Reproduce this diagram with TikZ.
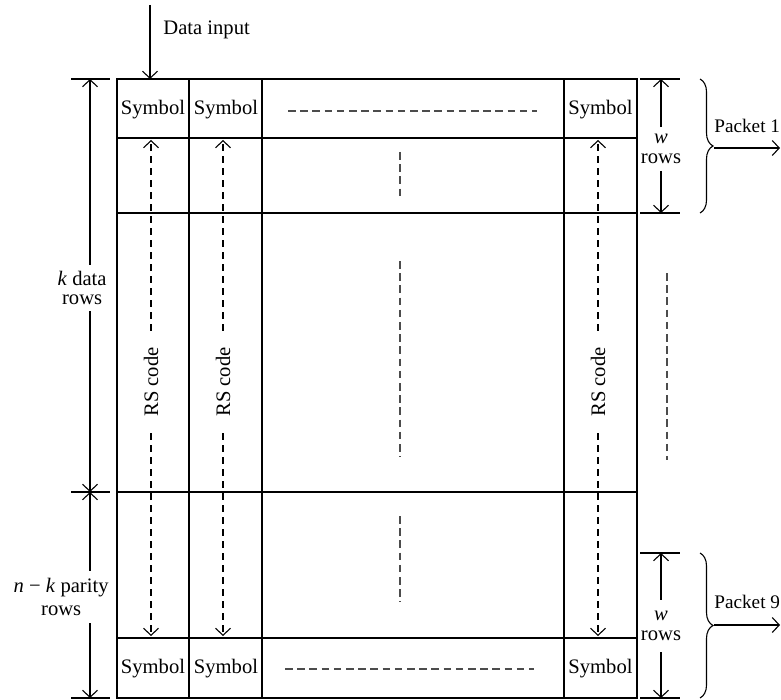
\documentclass[tikz,border=0pt]{standalone}
\usepackage{fontspec}
\setmainfont{Liberation Serif}
\usetikzlibrary{arrows.meta,decorations.pathreplacing}

\begin{document}
\begin{tikzpicture}[
    x=0.5pt,y=-0.5pt,
    font=\fontsize{10.3}{11.3}\selectfont,
    grid/.style={line width=0.6pt},
    dim/.style={line width=0.55pt},
    arrow/.style={-{Straight Barb[length=3.5pt,width=7.5pt]},line width=0.55pt},
    dashline/.style={line width=0.7pt,black!70,dash pattern=on 3.8pt off 2.3pt},
    rsarrow/.style={arrow,dash pattern=on 3.6pt off 2.4pt},
    rslabel/.style={rotate=90,inner xsep=8pt,inner ysep=1pt},
    sym/.style={anchor=base,inner sep=1pt},
    dimlbl/.style={align=center,inner xsep=1pt,inner ysep=0pt},
    brace/.style={dim,decorate,decoration={brace,amplitude=6.5pt}}
  ]
  \useasboundingbox (0,0) rectangle (781,700);

  % grid
  \draw[grid] (117,79) rectangle (637,698);
  \foreach \x in {189,262,564} \draw[grid] (\x,79) -- (\x,698);
  \foreach \y in {138,213,492,638} \draw[grid] (117,\y) -- (637,\y);

  \node[sym] (s1) at (153,115) {Symbol};
  \node[sym] (s2) at (226,115) {Symbol};
  \node[sym] (s3) at (600.5,115) {Symbol};
  \node[sym] (s4) at (153,673) {Symbol};
  \node[sym] (s5) at (226,673) {Symbol};
  \node[sym] (s6) at (600.5,673) {Symbol};

  \draw[dashline] (288,111) -- (537,111);
  \draw[dashline] (285,669) -- (534,669);
  \draw[dashline] (400,152) -- (400,200);
  \draw[dashline] (400,261) -- (400,457);
  \draw[dashline] (400,516) -- (400,602);
  \draw[dashline] (667,273) -- (667,460);

  % input
  \coordinate (din) at (150,5);
  \coordinate (cin) at (150,79);
  \node[anchor=base west,inner sep=1pt] (dlbl) at (161,35) {Data input};
  \draw[arrow] (din) -- (cin);

  % RS code columns
  \foreach \n/\x in {1/151,2/223,3/598} {
    \coordinate (rt\n) at (\x,140);
    \coordinate (rb\n) at (\x,636);
    \node[rslabel] (rs\n) at (\x,382) {RS code};
    \draw[rsarrow] (rs\n) -- (rt\n);
    \draw[rsarrow] (rs\n) -- (rb\n);
  }

  % left dimensions
  \foreach \y in {79,492,698} \draw[dim] (71,\y) -- (110,\y);
  \coordinate (kt) at (90,79);
  \coordinate (km) at (90,492);
  \coordinate (kb) at (90,698);
  \node[dimlbl,anchor=east,minimum height=23pt] (kd) at (109,288) {\textit{k} data\\[-1.5pt]rows};
  \node[dimlbl,anchor=east,minimum height=26pt] (par) at (111,597) {\textit{n} − \textit{k} parity\\[0.5pt]rows};
  \draw[arrow] (kd.north -| kt) -- (kt);
  \draw[arrow] (kd.south -| km) -- (km);
  \draw[arrow] (par.north -| km) -- (km);
  \draw[arrow] (par.south -| kb) -- (kb);

  % right dimensions
  \foreach \y in {79,213,553,698} \draw[dim] (640,\y) -- (680,\y);
  \coordinate (w1t) at (661,79);
  \coordinate (w1b) at (661,213);
  \coordinate (w2t) at (661,553);
  \coordinate (w2b) at (661,698);
  \node[dimlbl,minimum height=21.5pt] (w1) at (661,149) {\textit{w}\\[-1.5pt]rows};
  \node[dimlbl,minimum height=26pt] (w2) at (661,626) {\textit{w}\\[-1.5pt]rows};
  \draw[arrow] (w1) -- (w1t);
  \draw[arrow] (w1) -- (w1b);
  \draw[arrow] (w2) -- (w2t);
  \draw[arrow] (w2) -- (w2b);

  % packets
  \draw[brace] (700,79) -- (700,213);
  \draw[brace] (700,553) -- (700,698);
  \coordinate (p1a) at (714,148);
  \coordinate (p1b) at (780,148);
  \coordinate (p2a) at (714,625);
  \coordinate (p2b) at (780,625);
  \node[anchor=base west,inner sep=0.5pt,font=\fontsize{9.6}{11}\selectfont] (p1) at (713,133) {Packet 1};
  \node[anchor=base west,inner sep=0.5pt,font=\fontsize{9.6}{11}\selectfont] (p2) at (713,608) {Packet 9};
  \draw[arrow] (p1a) -- (p1b);
  \draw[arrow] (p2a) -- (p2b);
\end{tikzpicture}
\end{document}
